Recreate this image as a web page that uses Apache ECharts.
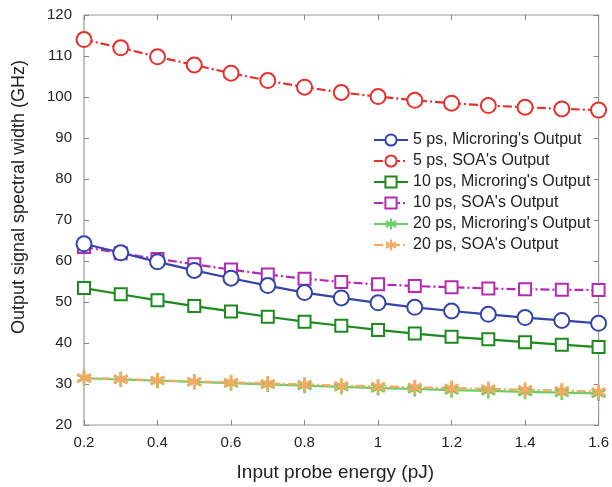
<!DOCTYPE html>
<html><head><meta charset="utf-8">
<script src="https://cdn.jsdelivr.net/npm/echarts@6/dist/echarts.min.js"></script>
<style>html,body{margin:0;padding:0;background:#fff}#c{width:612px;height:487px}</style>
</head><body><div id="c"></div>
<script>
const energy = [0.2,0.3,0.4,0.5,0.6,0.7,0.8,0.9,1.0,1.1,1.2,1.3,1.4,1.5,1.6];
const mr5  = [64.2,62.0,59.8,57.7,55.8,54.0,52.3,51.0,49.8,48.7,47.8,47.0,46.2,45.5,44.8];
const soa5 = [114.0,112.0,109.8,107.8,105.8,104.0,102.4,101.1,100.1,99.2,98.5,97.9,97.5,97.1,96.8];
const mr10 = [53.4,51.9,50.4,49.0,47.7,46.4,45.2,44.2,43.2,42.3,41.5,40.9,40.2,39.6,39.0];
const soa10= [63.4,61.9,60.5,59.2,57.9,56.7,55.7,54.9,54.3,53.9,53.6,53.3,53.1,53.0,52.9];
const mr20 = [31.4,31.1,30.8,30.5,30.2,29.9,29.6,29.3,29.0,28.8,28.5,28.3,28.1,27.9,27.7];
const soa20= [31.5,31.2,30.9,30.6,30.4,30.1,29.9,29.6,29.4,29.2,29.0,28.8,28.6,28.4,28.1];
const names = ["5 ps, Microring's Output","5 ps, SOA's Output","10 ps, Microring's Output","10 ps, SOA's Output","20 ps, Microring's Output","20 ps, SOA's Output"];
const xTicks = [0.2,0.4,0.6,0.8,1,1.2,1.4,1.6];

const font = "Arial, 'Liberation Sans', sans-serif";
const ast = 'path://M-0.17,-1L0.17,-1L0.17,-0.3L0.78,-0.65L0.95,-0.35L0.34,0L0.95,0.35L0.78,0.65L0.17,0.3L0.17,1L-0.17,1L-0.17,0.3L-0.78,0.65L-0.95,0.35L-0.34,0L-0.95,-0.35L-0.78,-0.65L-0.17,-0.3Z';
const dashdot = [9,3,2,3];
function mk(name, data, color, symbol, size, dashed, z){
  return {
    name, type:'line', data: data.map((v,i)=>[energy[i], v]),
    symbol, symbolSize:size, showSymbol:true, z,
    lineStyle:{color, width:2.2, type: dashed ? dashdot : 'solid'},
    itemStyle:{color: symbol===ast ? color : '#fff', borderColor:color, borderWidth: symbol===ast?0:2},
    emphasis:{disabled:true}
  };
}
const axisCommon = {
  axisLine:{show:false}, splitLine:{show:false},
  axisTick:{inside:true, length:5, lineStyle:{color:'#888'}}
};
const chart = echarts.init(document.getElementById('c'));
chart.setOption({
  animation:false,
  grid:{left:84, right:8, top:15, bottom:58, show:true, borderColor:'#9a9a9a', borderWidth:1.2},
  legend:{
    orient:'vertical', left:368, top:127, itemGap:5, itemWidth:34, itemHeight:14,
    textStyle:{fontFamily:font, fontSize:16, color:'#222'},
    data:names
  },
  xAxis:[
    Object.assign({type:'value', min:0.2, max:1.6, interval:0.2, position:'bottom',
      name:'Input probe energy (pJ)', nameLocation:'middle', nameGap:38,
      nameTextStyle:{fontFamily:font, fontSize:19, color:'#222', padding:[0,12,0,0]},
      axisLabel:{fontFamily:font, fontSize:15, color:'#222', margin:10,
        formatter:v=>{const r=Math.round(v*10)/10; return xTicks.includes(r)?String(r):'';}}
    }, axisCommon),
    Object.assign({type:'value', min:0.2, max:1.6, interval:0.2, position:'top', axisLabel:{show:false}}, axisCommon)
  ],
  yAxis:[
    Object.assign({type:'value', min:20, max:120, interval:10, position:'left',
      name:'Output signal spectral width (GHz)', nameLocation:'middle', nameGap:56,
      nameTextStyle:{fontFamily:font, fontSize:18, color:'#222', padding:[0,0,0,46]},
      axisLabel:{fontFamily:font, fontSize:15, color:'#222', margin:12}
    }, axisCommon),
    Object.assign({type:'value', min:20, max:120, interval:10, position:'right', axisLabel:{show:false}}, axisCommon)
  ],
  series:[
    mk(names[0], mr5, '#3344aa', 'circle', 15, false, 5),
    mk(names[1], soa5, '#e8302a', 'circle', 15, true, 5),
    mk(names[2], mr10, '#1e8a1e', 'rect', 12, false, 4),
    mk(names[3], soa10, '#b52ab5', 'rect', 12, true, 4),
    mk(names[4], mr20, '#66d066', ast, 15, false, 3),
    mk(names[5], soa20, '#f8a860', ast, 15, true, 3)
  ]
});
</script></body></html>
